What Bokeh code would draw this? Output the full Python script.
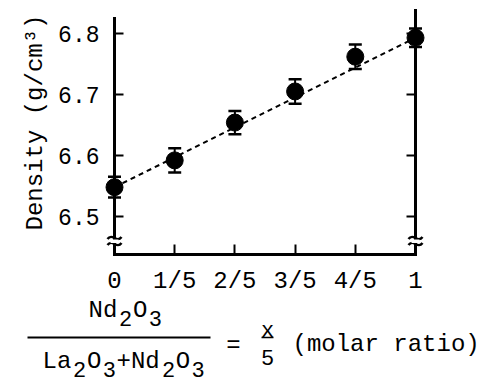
import math
from bokeh.plotting import figure
from bokeh.models import (Range1d, LinearAxis, FixedTicker, Label, Whisker, TeeHead,
                          ColumnDataSource, BoxAnnotation)
from bokeh.embed import file_html
from bokeh.resources import INLINE

# ---- data ----
ratio = [0.0, 0.2, 0.4, 0.6, 0.8, 1.0]
ratio_labels = ["0", "1/5", "2/5", "3/5", "4/5", "1"]
density = [6.548, 6.592, 6.654, 6.705, 6.762, 6.793]
density_err = [0.017, 0.020, 0.019, 0.020, 0.020, 0.015]
fit_x = [0.0, 1.0]
fit_y = [6.548, 6.793]
y_ticks = [6.5, 6.6, 6.7, 6.8]

FONT = "Liberation Mono"

# pixel helpers (layout only)
X0PX, X1PX = 114.0, 415.0
def dx(px):
    return (px - X0PX) / (X1PX - X0PX)
def dy(py):
    return 6.5 + (216.0 - py) / 610.0

W, H = 485, 385
p = figure(width=W, height=H, output_backend="svg", toolbar_location=None,
           x_axis_location=None, y_axis_location=None,
           x_range=Range1d(dx(0), dx(W)), y_range=Range1d(dy(H), dy(0)),
           min_border=0, min_border_left=0, min_border_right=0,
           min_border_top=0, min_border_bottom=0)
p.grid.visible = False
p.outline_line_color = None
p.background_fill_color = "white"

y_bot = dy(254)

def style_axis(ax, tick_in):
    ax.axis_line_width = 3
    ax.axis_line_color = "black"
    ax.axis_line_cap = "square"
    ax.major_tick_in = tick_in
    ax.major_tick_out = 0
    ax.major_tick_line_width = 2
    ax.major_tick_line_color = "black"
    ax.minor_tick_line_color = None
    ax.major_label_text_font = FONT
    ax.major_label_text_color = "black"

left = LinearAxis(fixed_location=0.0, bounds=(y_bot, dy(18)),
                  ticker=FixedTicker(ticks=y_ticks))
style_axis(left, 9)
left.major_label_text_font_size = "23px"
left.major_label_standoff = 15
p.add_layout(left, "left")

bottom = LinearAxis(fixed_location=y_bot, bounds=(0.0, 1.0),
                    ticker=FixedTicker(ticks=ratio))
style_axis(bottom, 10)
bottom.major_label_text_font_size = "24px"
bottom.major_label_standoff = 13
bottom.major_label_overrides = {v: s for v, s in zip(ratio, ratio_labels)}
p.add_layout(bottom, "below")

# right-hand frame line with inward ticks
p.segment(x0=[1.0], y0=[y_bot], x1=[1.0], y1=[dy(10)], line_width=3,
          line_color="black", line_cap="square")
p.segment(x0=[1.0] * len(y_ticks), y0=y_ticks, x1=[dx(X1PX - 9)] * len(y_ticks),
          y1=y_ticks, line_width=2, line_color="black")

# fit line
p.line(fit_x, fit_y, line_dash="5 4", line_width=2, line_color="black")

# error bars and points
src = ColumnDataSource(dict(x=ratio, y=density,
                            lo=[d - e for d, e in zip(density, density_err)],
                            hi=[d + e for d, e in zip(density, density_err)]))
p.add_layout(Whisker(source=src, base="x", lower="lo", upper="hi", line_width=2,
                     line_color="black",
                     lower_head=TeeHead(size=13, line_width=2.5, line_color="black"),
                     upper_head=TeeHead(size=13, line_width=2.5, line_color="black"),
                     level="overlay"))
p.scatter("x", "y", source=src, size=17, color="black", level="overlay")

# axis break marks
for axx in (X0PX, X1PX):
    p.add_layout(BoxAnnotation(left=dx(axx - 4), right=dx(axx + 4),
                               bottom=dy(242.5), top=dy(239.0),
                               fill_color="white", fill_alpha=1.0, line_color=None,
                               level="overlay"))
    for yb in (237.5, 243.5):
        p.bezier(x0=[dx(axx - 7)], y0=[dy(yb + 1)], x1=[dx(axx + 7)], y1=[dy(yb - 1)],
                 cx0=[dx(axx - 2)], cy0=[dy(yb - 6)], cx1=[dx(axx + 2)], cy1=[dy(yb + 6)],
                 line_width=2.5, line_color="black", level="overlay")

def lab(text, px, py, size=24, align="left", baseline="alphabetic", angle=0.0):
    p.add_layout(Label(x=dx(px), y=dy(py), text=text, text_font=FONT,
                       text_font_size=f"{size}px", text_align=align,
                       text_baseline=baseline, angle=angle, text_color="black"))

# y axis title
lab("Density (g/cm\u00b3)", 35, 122, size=24, align="center", baseline="middle",
    angle=math.pi / 2)

# x axis title: fraction
ADV = 14.8
def chem(parts, x_start, base_py, sub_py):
    x = x_start
    for txt, sub in parts:
        if sub:
            lab(txt, x + 1, sub_py, size=22)
        else:
            lab(txt, x, base_py)
        x += ADV * len(txt)

chem([("Nd", False), ("2", True), ("O", False), ("3", True)], 88, 310, 318)
chem([("La", False), ("2", True), ("O", False), ("3", True), ("+Nd", False),
      ("2", True), ("O", False), ("3", True)], 42, 361, 369)

p.segment(x0=[dx(27)], y0=[dy(337)], x1=[dx(210)], y1=[dy(337)],
          line_width=2, line_color="black")
lab("=", 233, 345, align="center")
lab("x", 267, 331, size=22, align="center")
p.segment(x0=[dx(261)], y0=[dy(337)], x1=[dx(273)], y1=[dy(337)],
          line_width=1.5, line_color="black")
lab("5", 267, 357, size=22, align="center")
lab("(molar ratio)", 292, 344)

open("out.html", "w").write(file_html(p, INLINE))
